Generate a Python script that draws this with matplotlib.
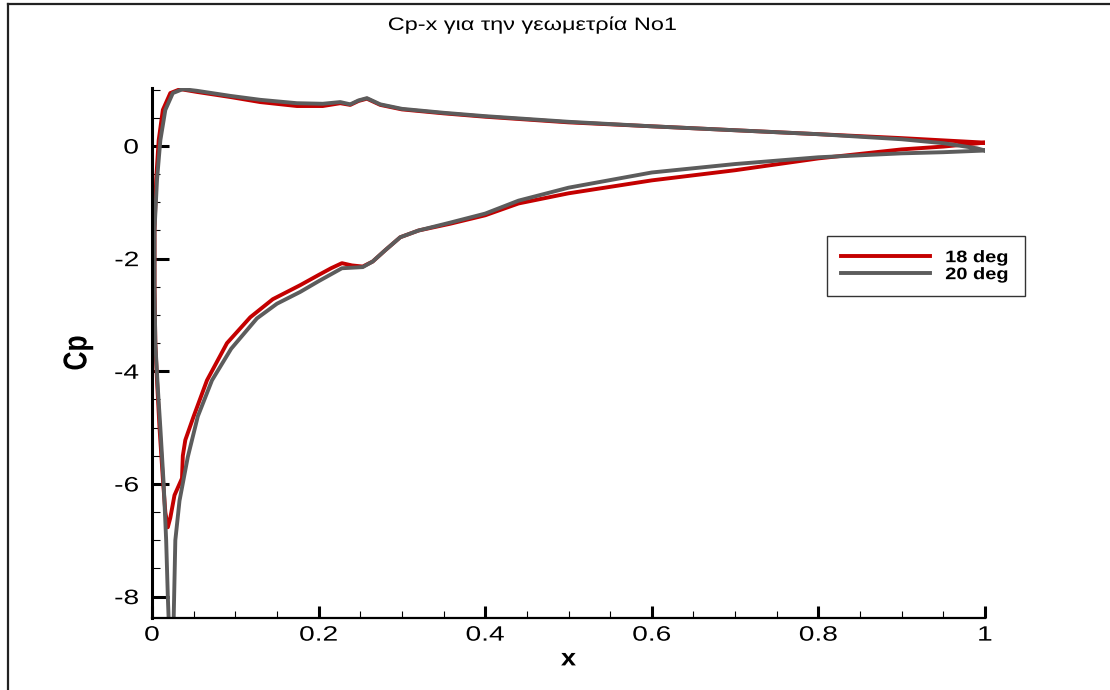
import matplotlib
matplotlib.use("Agg")
import matplotlib.pyplot as plt
from matplotlib.ticker import MultipleLocator
from matplotlib.lines import Line2D
from matplotlib.patheffects import AbstractPathEffect
from matplotlib.transforms import Affine2D

plt.rcParams['font.family'] = ['Liberation Sans', 'DejaVu Sans']
plt.rcParams['axes.unicode_minus'] = False

# Closed Cp loops: trailing edge -> pressure side -> leading edge -> suction side -> trailing edge
x_18 = [1.0, 0.95, 0.9, 0.8, 0.7, 0.6, 0.5, 0.4, 0.35, 0.3, 0.274, 0.258, 0.248, 0.238,
        0.226, 0.205, 0.174, 0.13, 0.094, 0.054, 0.034, 0.022, 0.013, 0.008, 0.005, 0.003,
        0.003, 0.004, 0.006, 0.009, 0.013, 0.016, 0.019, 0.022, 0.027, 0.033, 0.036, 0.037,
        0.04, 0.05, 0.066, 0.09, 0.118, 0.145, 0.178, 0.2, 0.215, 0.228, 0.24, 0.253, 0.265,
        0.28, 0.298, 0.32, 0.358, 0.4, 0.44, 0.5, 0.6, 0.7, 0.8, 0.9, 0.95, 1.0]
cp_18 = [0.06, 0.10, 0.14, 0.21, 0.28, 0.35, 0.42, 0.52, 0.58, 0.65, 0.73, 0.84, 0.80, 0.73,
         0.76, 0.71, 0.71, 0.78, 0.87, 0.96, 1.01, 0.94, 0.64, 0.10, -0.6, -1.5,
         -2.5, -3.5, -4.16, -5.0, -5.9, -6.5, -6.77, -6.6, -6.2, -6.0, -5.9, -5.5,
         -5.22, -4.8, -4.16, -3.5, -3.04, -2.72, -2.47, -2.29, -2.17, -2.08, -2.12, -2.14, -2.05,
         -1.85, -1.62, -1.5, -1.38, -1.23, -1.02, -0.84, -0.61, -0.43, -0.22, -0.06, -0.01, 0.06]

x_20 = [1.0, 0.99, 0.95, 0.9, 0.8, 0.7, 0.6, 0.5, 0.4, 0.35, 0.3, 0.274, 0.258, 0.248, 0.238,
        0.226, 0.205, 0.174, 0.13, 0.094, 0.054, 0.037, 0.025, 0.016, 0.01, 0.006, 0.003,
        0.003, 0.004, 0.007, 0.01, 0.014, 0.017, 0.019, 0.021, 0.024, 0.026, 0.028, 0.033,
        0.043, 0.055, 0.072, 0.095, 0.126, 0.15, 0.178, 0.2, 0.228, 0.253, 0.265, 0.28, 0.298,
        0.32, 0.358, 0.4, 0.44, 0.5, 0.6, 0.7, 0.8, 0.9, 0.95, 1.0]
cp_20 = [-0.08, -0.04, 0.05, 0.12, 0.21, 0.28, 0.35, 0.43, 0.53, 0.59, 0.66, 0.74, 0.85, 0.81, 0.74,
         0.78, 0.75, 0.76, 0.82, 0.89, 0.98, 1.01, 0.94, 0.64, 0.10, -0.6, -1.5,
         -2.5, -3.5, -4.3, -5.0, -6.0, -7.0, -8.0, -8.8, -8.9, -8.4, -7.0, -6.3,
         -5.52, -4.8, -4.16, -3.6, -3.06, -2.8, -2.59, -2.4, -2.17, -2.15, -2.05, -1.85, -1.62,
         -1.5, -1.36, -1.2, -0.97, -0.74, -0.47, -0.32, -0.2, -0.13, -0.11, -0.08]

series_labels = ['18 deg', '20 deg']
x_ticks = [0, 0.2, 0.4, 0.6, 0.8, 1]
x_tick_labels = ['0', '0.2', '0.4', '0.6', '0.8', '1']
y_ticks = [-8, -6, -4, -2, 0]


class StretchX(AbstractPathEffect):
    """Widen text glyphs horizontally (in screen space) about an anchor."""

    def __init__(self, sx=1.3, anchor='center'):
        super().__init__()
        self._sx = sx
        self._anchor = anchor

    def draw_path(self, renderer, gc, tpath, affine, rgbFace=None):
        bb = tpath.get_extents(affine)
        if self._anchor == 'left':
            x0 = bb.x0
        elif self._anchor == 'right':
            x0 = bb.x1
        else:
            x0 = 0.5 * (bb.x0 + bb.x1)
        t = affine + Affine2D().translate(-x0, 0).scale(self._sx, 1).translate(x0, 0)
        renderer.draw_path(gc, tpath, t, rgbFace)


W, H = 1110, 690
fig = plt.figure(figsize=(W / 100, H / 100), dpi=100)
ax = fig.add_axes([152 / W, 1 - 618 / H, (985 - 152) / W, (618 - 88) / H])

ax.plot(x_18, cp_18, color='#c40000', lw=2.8, label=series_labels[0], solid_joinstyle='round')
ax.plot(x_20, cp_20, color='#5c5c5c', lw=2.8, label=series_labels[1], solid_joinstyle='round')

ax.set_xlim(0, 1)
ax.set_ylim(-8.38, 1.03)

ax.set_xticks(x_ticks)
ax.set_xticklabels(x_tick_labels)
ax.set_yticks(y_ticks)
ax.xaxis.set_minor_locator(MultipleLocator(0.05))
ax.yaxis.set_minor_locator(MultipleLocator(0.5))

ax.tick_params(which='major', direction='in', width=2.2, labelsize=15, top=False, right=False)
ax.tick_params(axis='x', which='major', length=9, pad=5.5)
ax.tick_params(axis='y', which='major', length=12, pad=9.5)
ax.tick_params(axis='x', which='minor', direction='in', length=5, width=0.8, top=False)
ax.tick_params(axis='y', which='minor', direction='in', length=6, width=0.8, right=False)

for lbl in ax.get_xticklabels():
    lbl.set_path_effects([StretchX(1.35, 'center')])
for lbl in ax.get_yticklabels():
    lbl.set_path_effects([StretchX(1.35, 'right')])

for side in ('top', 'right'):
    ax.spines[side].set_visible(False)
ax.spines['left'].set_linewidth(2.2)
ax.spines['bottom'].set_linewidth(1.6)

xl = ax.set_xlabel('x', fontsize=17, fontweight='bold', labelpad=2)
xl.set_path_effects([StretchX(1.15, 'center')])
yl = ax.set_ylabel('Cp', fontsize=19, fontweight='bold', labelpad=22)
yl.set_path_effects([StretchX(1.25, 'center')])

title = fig.text(532 / W, 1 - 25 / H, 'Cp-x για την γεωμετρία No1', ha='center', va='center',
                 fontsize=13)
title.set_path_effects([StretchX(1.3, 'center')])

leg_x0 = (827 - 152) / 833
leg_w = (1025 - 827) / 833
leg_top = (618 - 236) / 530
leg = ax.legend(loc='upper left', bbox_to_anchor=(leg_x0, 0, leg_w, leg_top), mode='expand',
                frameon=True, fancybox=False, edgecolor='#333333', framealpha=1,
                prop={'weight': 'bold', 'size': 12}, handlelength=5.3, handletextpad=0.95,
                borderpad=0.85, labelspacing=0.12, borderaxespad=0)
leg.get_frame().set_linewidth(1.0)
for t in leg.get_texts():
    t.set_path_effects([StretchX(1.2, 'left')])

# outer frame lines
fig.add_artist(Line2D([8 / W, 8 / W], [0, 1 - 4 / H], color='#222222', lw=1.6))
fig.add_artist(Line2D([8 / W, 1], [1 - 4 / H, 1 - 4 / H], color='#222222', lw=1.6))

fig.savefig('out.png', dpi=100)
